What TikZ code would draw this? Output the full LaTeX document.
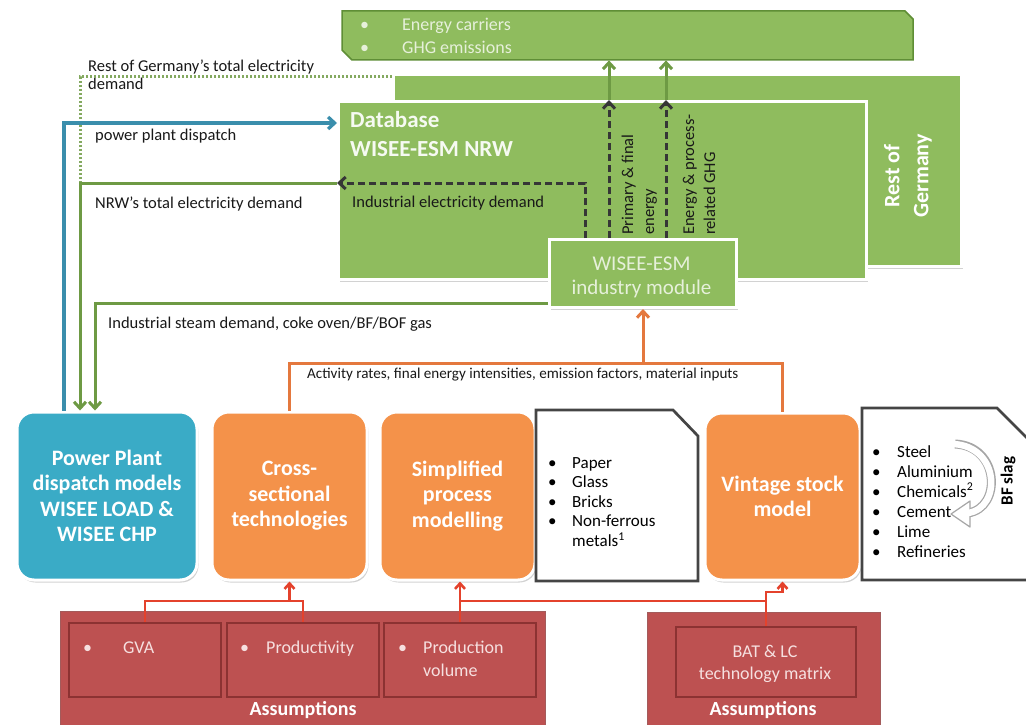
\documentclass[tikz,border=0pt]{standalone}
\usepackage{fontspec}
\setmainfont{Carlito}
\usetikzlibrary{arrows.meta,shadows}
\definecolor{grn}{HTML}{8FBC5E}
\definecolor{grnline}{HTML}{6E9A44}
\definecolor{grnborder}{HTML}{5F8E36}
\definecolor{grntext}{HTML}{E6F0DA}
\definecolor{blubox}{HTML}{3AABC6}
\definecolor{bluline}{HTML}{3A8EAC}
\definecolor{orgbox}{HTML}{F4924A}
\definecolor{orgline}{HTML}{E4783E}
\definecolor{redbox}{HTML}{BD5151}
\definecolor{redborder}{HTML}{8C3232}
\definecolor{redline}{HTML}{E4422C}
\definecolor{redtext}{HTML}{F6E0E0}
\definecolor{darkln}{HTML}{363636}
\definecolor{docborder}{HTML}{454545}
\newcommand\myfs[2]{\fontsize{#1}{#2}\selectfont}
\begin{document}
\begin{tikzpicture}[x=1pt,y=-1pt,
 shad/.style={drop shadow={shadow xshift=1.5pt,shadow yshift=-2.5pt,opacity=0.35,fill=black!50}},
 gbox/.style={fill=grn,draw=white,line width=3pt,shad,inner sep=0pt,anchor=north west},
 mbox/.style={rounded corners=17pt,draw=white,line width=3pt,shad,inner sep=0pt,text=white,align=center,font=\bfseries\myfs{22}{25.5}},
 rbox/.style={fill=redbox,draw=redborder!80,line width=1.2pt,anchor=north west,inner sep=0pt},
 rinner/.style={fill=redbox,draw=redborder,line width=2pt,anchor=north west,inner sep=0pt},
 lbl/.style={inner sep=0pt,anchor=base west,font=\myfs{16.5}{20},text=black!90},
 arrowtip/.style={-{Straight Barb[length=6.5pt,width=12pt]}},
 garr/.style={draw=grnline,line width=3pt,arrowtip},
 gdot/.style={draw=grnline!85,line width=3pt,dash pattern=on 2pt off 2pt},
 barr/.style={draw=bluline,line width=3.3pt,arrowtip},
 darr/.style={draw=darkln,line width=3pt,dash pattern=on 7pt off 4pt,arrowtip},
 oln/.style={draw=orgline,line width=3pt},
 oarr/.style={oln,arrowtip},
 rln/.style={draw=redline,line width=2.6pt},
 rarr/.style={rln,-{Straight Barb[length=5.5pt,width=10pt]}},
 doc/.style={fill=white,draw=docborder,line width=2.7pt,line join=miter},
]
\useasboundingbox (0,0) rectangle (1026,725);
\fill[white] (0,0) rectangle (1026,725);

% helper coordinates
\coordinate (yA) at (0,77);
\coordinate (yB) at (0,123);
\coordinate (yC) at (0,183);
\coordinate (yD) at (0,303);
\coordinate (yE) at (0,363);
\coordinate (yF) at (0,601);
\coordinate (yG) at (0,592);
\coordinate (xA) at (64,0);
\coordinate (xB) at (80,0);
\coordinate (xC) at (95,0);
\coordinate (xD) at (585,0);
\coordinate (xE) at (609,0);
\coordinate (xF) at (666,0);

% top green boxes
\node[gbox,minimum width=568,minimum height=192] (rest) at (392,73) {};
\node[rotate=90,text=white,font=\bfseries\myfs{22}{29},align=center,inner sep=0pt] (restt) at (908,176) {Rest of\\Germany};
\node[gbox,minimum width=528,minimum height=178] (db) at (337,100) {};
\node[inner sep=0pt,anchor=base west,text=white!92!grn,font=\bfseries\myfs{23}{28}] (dbt1) at (350,127) {Database};
\node[inner sep=0pt,anchor=base west,text=white!92!grn,font=\bfseries\myfs{23}{28}] (dbt2) at (350,156) {WISEE-ESM NRW};
\node[gbox,minimum width=187,minimum height=68] (mod) at (548,238) {};
\node[inner sep=0pt,align=center,text=grntext,font=\myfs{21}{24}] (modt) at (641.5,277) {WISEE-ESM\\industry module};

% banner
\path[fill=grn,draw=grnborder,line width=1.5pt] (342,11) -- (905,11) -- (913,19) -- (913,60) -- (352,60) -- (342,50) -- cycle;
\node[inner sep=0pt,minimum width=571,minimum height=49,anchor=north west] (banner) at (342,11) {};
\node[lbl,text=grntext,font=\myfs{18}{23}] (bb1) at (360,31) {\textbullet};
\node[lbl,text=grntext,font=\myfs{18}{23}] (bt1) at (402,31) {Energy carriers};
\node[lbl,text=grntext,font=\myfs{18}{23}] (bb2) at (360,54) {\textbullet};
\node[lbl,text=grntext,font=\myfs{18}{23}] (bt2) at (402,54) {GHG emissions};

% labels
\node[lbl] (l1) at (88,71) {Rest of Germany’s total electricity};
\node[lbl] (l1b) at (88,90) {demand};
\node[lbl] (l2) at (95,140) {power plant dispatch};
\node[lbl] (l3) at (95,208) {NRW’s total electricity demand};
\node[lbl] (l4) at (352,207) {Industrial electricity demand};
\node[lbl] (l5) at (108,328) {Industrial steam demand, coke oven/BF/BOF gas};
\node[lbl,font=\myfs{15.1}{18}] (l6) at (307,378) {Activity rates, final energy intensities, emission factors, material inputs};
\node[lbl,rotate=90] (v1) at (633,235) {Primary \& final};
\node[lbl,rotate=90] (v1b) at (654,235) {energy};
\node[lbl,rotate=90] (v2) at (694,235) {Energy \& process-};
\node[lbl,rotate=90] (v2b) at (715,235) {related GHG};

% bottom model boxes
\node[mbox,fill=blubox,minimum width=180,minimum height=168] (pp) at (107,496) {Power Plant\\dispatch models\\WISEE LOAD \&\\WISEE CHP};
\node[mbox,fill=orgbox,minimum width=155,minimum height=168] (cs) at (289.5,496) {Cross-\\sectional\\technologies};
\node[mbox,fill=orgbox,minimum width=155,minimum height=168] (sp) at (457.5,496) {Simplified\\process\\modelling};
\node[mbox,fill=orgbox,minimum width=155,minimum height=167] (vs) at (782.5,496.5) {Vintage stock\\model};

% document shapes
\path[doc] (536,410) -- (673,410) -- (698,436) -- (698,581) -- (536,581) -- cycle;
\node[inner sep=0pt,anchor=north west,font=\myfs{17}{19.5}] (doc1) at (548,454.35) {%
\begin{tabular}{@{}p{24pt}@{}l@{}}
\textbullet & Paper\\
\textbullet & Glass\\
\textbullet & Bricks\\
\textbullet & Non-ferrous\\
 & metals\textsuperscript{1}
\end{tabular}};
\path[doc] (862,408) -- (997,408) -- (1030,441) -- (1030,580) -- (862,580) -- cycle;
\node[inner sep=0pt,anchor=north west,font=\myfs{17}{20}] (doc2) at (872,443) {%
\begin{tabular}{@{}p{25pt}@{}l@{}}
\textbullet & Steel\\
\textbullet & Aluminium\\
\textbullet & Chemicals\textsuperscript{2}\\
\textbullet & Cement\\
\textbullet & Lime\\
\textbullet & Refineries
\end{tabular}};
% BF slag hollow arrow
\draw[black!35,line width=9pt] (955,444) .. controls (1000,446) and (1002,508) .. (968,513);
\filldraw[fill=white,draw=black!35,line width=1.2pt,line join=round] (951,514) -- (970,501) -- (970,527) -- cycle;
\draw[white,line width=6.5pt] (953,444) .. controls (1000,446) and (1002,508) .. (968,513);
\node[inner sep=0pt,rotate=90,font=\bfseries\myfs{17}{20}] (bfs) at (1008,481) {BF slag};

% assumptions
\node[rbox,minimum width=485,minimum height=130] (a1) at (60,611) {};
\node[rinner,minimum width=152,minimum height=74] (gva) at (68,622) {};
\node[rinner,minimum width=152,minimum height=74] (prod) at (226,622) {};
\node[rinner,minimum width=152,minimum height=74] (pv) at (383,622) {};
\node[rbox,minimum width=233,minimum height=130] (a2) at (647,612) {};
\node[rinner,minimum width=180,minimum height=70] (bat) at (675,626) {};
\node[inner sep=0pt,anchor=base,text=white,font=\bfseries\myfs{20}{24}] (a1t) at (303,715) {Assumptions};
\node[inner sep=0pt,anchor=base,text=white,font=\bfseries\myfs{20}{24}] (a2t) at (763,715) {Assumptions};
\node[lbl,text=redtext,font=\myfs{18}{23}] (g1) at (83,653) {\textbullet};
\node[lbl,text=redtext,font=\myfs{18}{23}] (g2) at (123,653) {GVA};
\node[lbl,text=redtext,font=\myfs{18}{23}] (p1) at (240,653) {\textbullet};
\node[lbl,text=redtext,font=\myfs{18}{23}] (p2) at (266,653) {Productivity};
\node[lbl,text=redtext,font=\myfs{18}{23}] (q1) at (398,653) {\textbullet};
\node[lbl,text=redtext,font=\myfs{18}{23}] (q2) at (423,653) {Production};
\node[lbl,text=redtext,font=\myfs{18}{23}] (q3) at (423,676) {volume};
\node[inner sep=0pt,anchor=base,text=redtext,font=\myfs{18}{23}] (bt) at (765,657) {BAT \& LC};
\node[inner sep=0pt,anchor=base,text=redtext,font=\myfs{18}{23}] (bt2) at (765,679) {technology matrix};

% connectors
\draw[gdot] (rest.west |- yA) -| (xB |- yC);
\draw[barr] (xA |- pp.north) |- (db.west |- yB);
\draw[garr] (db.west |- yC) -| (xB |- pp.north);
\draw[garr] (mod.west |- yD) -| (xC |- pp.north);
\draw[darr] (xD |- mod.north) |- (db.west |- yC);
\draw[darr] (xE |- mod.north) -- (xE |- db.north);
\draw[darr] (xF |- mod.north) -- (xF |- db.north);
\draw[garr] (xE |- db.north) -- (xE |- banner.south);
\draw[garr] (xF |- db.north) -- (xF |- banner.south);
\draw[oln] (cs.north) |- (vs.north |- yE) -- (vs.north);
\draw[oarr] (mod.south |- yE) -- (mod.south);
\draw[rln] (gva.north) |- (prod.north |- yF) -- (prod.north);
\draw[rarr] (cs.south |- yF) -- (cs.south);
\draw[rarr] (pv.north) -- (pv.north |- sp.south);
\draw[rln] (pv.north |- yF) -| (bat.north);
\draw[rarr] (bat.north |- yF) |- (vs.south |- yG) -- (vs.south);
\end{tikzpicture}
\end{document}
